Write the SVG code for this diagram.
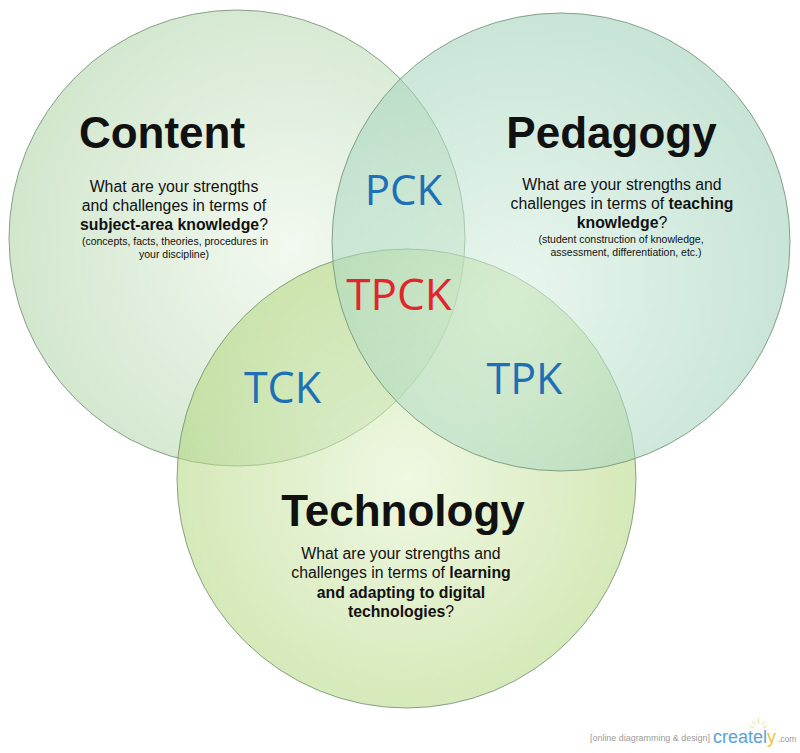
<svg xmlns="http://www.w3.org/2000/svg" width="800" height="753" viewBox="0 0 800 753">
  <defs>
    <radialGradient id="gC" cx="0.6" cy="0.52" r="0.62" fx="0.62" fy="0.52">
      <stop offset="0" stop-color="#E8F4E4"/>
      <stop offset="1" stop-color="#ABD1A3"/>
    </radialGradient>
    <radialGradient id="gP" cx="0.42" cy="0.58" r="0.64" fx="0.4" fy="0.6">
      <stop offset="0" stop-color="#D6EFE0"/>
      <stop offset="1" stop-color="#96CCB2"/>
    </radialGradient>
    <radialGradient id="gT" cx="0.5" cy="0.52" r="0.62" fx="0.5" fy="0.5">
      <stop offset="0" stop-color="#E2F2CB"/>
      <stop offset="1" stop-color="#A8D06C"/>
    </radialGradient>
    <style>
      .ring { stroke: #6f8c70; stroke-width: 1; stroke-opacity: 0.8; fill-opacity: 0.55; }
      .title { font-family: "Liberation Sans", Arial, sans-serif; font-weight: bold; font-size: 44px; fill: #111; text-anchor: middle; }
      .body { font-family: "Liberation Sans", Arial, sans-serif; font-size: 15.8px; fill: #111; text-anchor: middle; }
      .small { font-family: "Liberation Sans", Arial, sans-serif; font-size: 10.5px; fill: #111; text-anchor: middle; }
      .b { font-weight: bold; }
      .ov { font-family: "Open Sans", "Liberation Sans", sans-serif; font-size: 42px; fill: #1F6FB5; text-anchor: middle; }
      .wm { font-family: "Liberation Sans", Arial, sans-serif; fill: #9a9a9a; }
    </style>
  </defs>
  <rect width="800" height="753" fill="#ffffff"/>

  <g id="node-content">
    <circle class="ring" cx="237" cy="238" r="228" fill="url(#gC)"/>
    <text class="title" x="162" y="148">Content</text>
    <text class="body" x="174" y="192">What are your strengths</text>
    <text class="body" x="174" y="211">and challenges in terms of</text>
    <text class="body" x="174" y="230"><tspan class="b">subject-area knowledge</tspan>?</text>
    <text class="small" x="175" y="245">(concepts, facts, theories, procedures in</text>
    <text class="small" x="174" y="258">your discipline)</text>
  </g>

  <g id="node-technology">
    <circle class="ring" cx="406.5" cy="478.5" r="229.5" fill="url(#gT)"/>
    <text class="title" x="403" y="526">Technology</text>
    <text class="body" x="401" y="559">What are your strengths and</text>
    <text class="body" x="401" y="578">challenges in terms of <tspan class="b">learning</tspan></text>
    <text class="body b" x="401" y="598">and adapting to digital</text>
    <text class="body" x="401" y="617"><tspan class="b">technologies</tspan>?</text>
  </g>

  <g id="node-pedagogy">
    <circle class="ring" cx="561" cy="242" r="229" fill="url(#gP)"/>
    <text class="title" x="611.5" y="148">Pedagogy</text>
    <text class="body" x="622" y="190">What are your strengths and</text>
    <text class="body" x="622" y="209">challenges in terms of <tspan class="b">teaching</tspan></text>
    <text class="body" x="622" y="228"><tspan class="b">knowledge</tspan>?</text>
    <text class="small" x="621" y="243">(student construction of knowledge,</text>
    <text class="small" x="626" y="256">assessment, differentiation, etc.)</text>
  </g>

  <g id="connectors"/>

  <g id="label-pck"><text class="ov" x="403.5" y="205">PCK</text></g>
  <g id="label-tpck"><text class="ov" x="399" y="310" style="font-size:44px;fill:#E0262C">TPCK</text></g>
  <g id="label-tck"><text class="ov" x="282.5" y="403" style="font-size:43px">TCK</text></g>
  <g id="label-tpk"><text class="ov" x="524.5" y="394" style="font-size:43px">TPK</text></g>

  <g id="watermark">
    <text class="wm" x="590" y="741" font-size="9.5" textLength="120" lengthAdjust="spacingAndGlyphs">[online diagramming &amp; design]</text>
    <text x="713" y="743" font-family="Liberation Sans, Arial, sans-serif" font-size="18" textLength="63" lengthAdjust="spacingAndGlyphs" fill="#5C9FD6">createl<tspan fill="#F2C13C">y</tspan></text>
    <text class="wm" x="778" y="742" font-size="8.5">.com</text>
    <g stroke="#F4D27A" stroke-width="0.8" stroke-linecap="round">
      <line x1="758.5" y1="723" x2="758.5" y2="719"/>
      <line x1="755" y1="724.5" x2="752.5" y2="721.5"/>
      <line x1="762" y1="724.5" x2="764.5" y2="721.5"/>
      <line x1="753.5" y1="727.5" x2="750.5" y2="726.5"/>
      <line x1="763.5" y1="727.5" x2="766.5" y2="726.5"/>
    </g>
  </g>
</svg>
